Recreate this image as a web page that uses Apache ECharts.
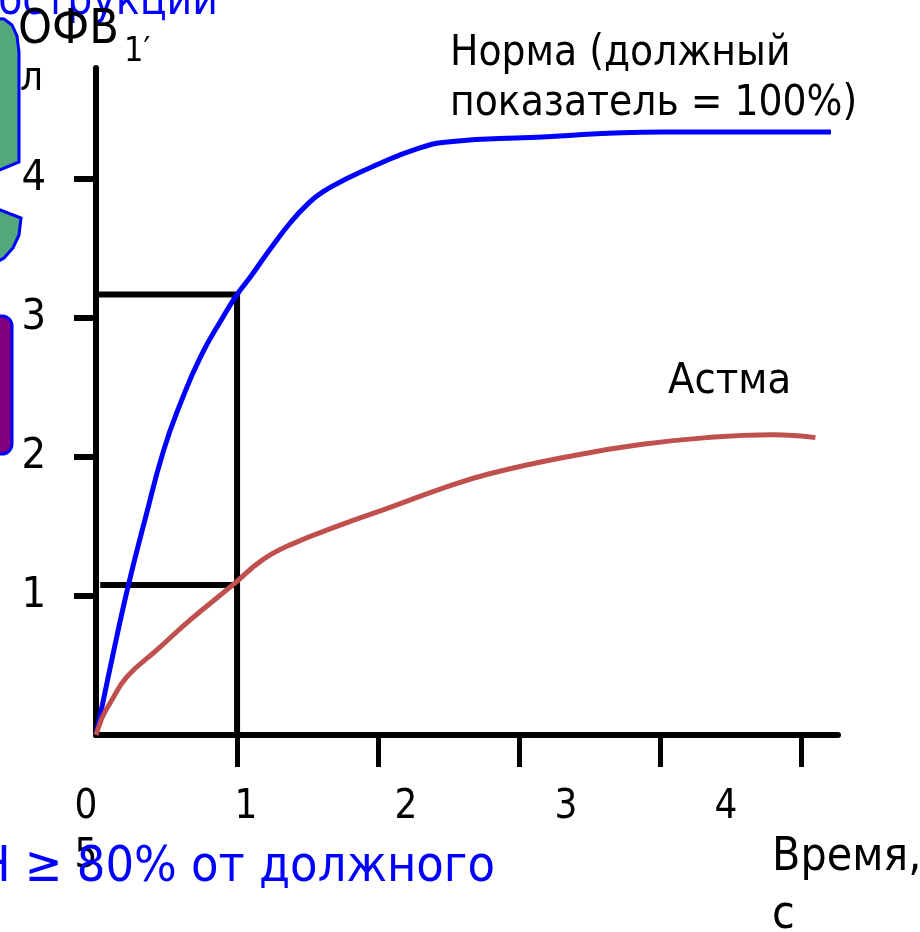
<!DOCTYPE html>
<html>
<head>
<meta charset="utf-8">
<script src="https://cdn.jsdelivr.net/npm/echarts@6/dist/echarts.min.js"></script>
<style>
  html, body { margin: 0; padding: 0; background: #fff; }
  #chart { width: 920px; height: 932px; }
</style>
</head>
<body>
<div id="chart"></div>
<script>
// ОФВ1: кривые форсированного выдоха — норма vs астма
const FONT = "'DejaVu Sans Condensed', 'DejaVu Sans', sans-serif";

// время, с  /  объём, л
const normT   = [0, 0.11, 0.23, 0.35, 0.48, 0.60, 0.74, 0.89, 1.00, 1.09, 1.23, 1.38, 1.50, 1.61, 1.79, 1.96, 2.28, 2.51, 3.08, 4.02, 5.21];
const normV   = [0, 0.53, 1.08, 1.56, 2.05, 2.39, 2.72, 2.99, 3.17, 3.29, 3.49, 3.69, 3.82, 3.91, 4.01, 4.09, 4.22, 4.27, 4.30, 4.34, 4.34];
const asthmaT = [0, 0.03, 0.05, 0.10, 0.22, 0.43, 0.67, 0.97, 1.18, 1.38, 1.73, 2.09, 2.44, 2.79, 3.38, 3.86, 4.33, 4.80, 5.10];
const asthmaV = [0, 0.09, 0.14, 0.23, 0.42, 0.61, 0.83, 1.08, 1.26, 1.37, 1.51, 1.64, 1.77, 1.88, 2.01, 2.09, 2.14, 2.16, 2.14];

// ОФВ1 на 1-й секунде
const fev1Time   = 1;
const normFev1   = 3.17;
const asthmaFev1 = 1.08;

const yTicks  = [1, 2, 3, 4];
const xTicks  = [1, 2, 3, 4, 5];
const xLabels = [0, 1, 2, 3, 4];

const zip = (a, b) => a.map((v, i) => [v, b[i]]);

const chart = echarts.init(document.getElementById("chart"), null, { renderer: "canvas" });

const txt = (text, x, y, size, color, align, z) => ({
  type: "text", z: z ?? 10,
  style: {
    text, x, y, fill: color || "#000",
    font: `${size}px ${FONT}`,
    textAlign: align || "left", textVerticalAlign: "middle",
  },
});

chart.setOption({
  backgroundColor: "#fff", animation: false,
  grid: [
    { left: 96, right: 82, top: 68, bottom: 197 },
    { left: 86, right: 34, top: 700, height: 82 },   // подписи оси времени
  ],
  xAxis: [
    {
      gridIndex: 0, type: "value", min: 0, max: 5.26,
      axisLine: { lineStyle: { color: "#000", width: 6 } },
      axisTick: { show: true, customValues: xTicks, length: 32, lineStyle: { color: "#000", width: 5 } },
      axisLabel: { show: false },
      splitLine: { show: false },
    },
    {
      gridIndex: 1, type: "value", min: 0, max: 5,
      axisLine: { show: false }, axisTick: { show: false }, splitLine: { show: false },
      axisLabel: {
        customValues: xLabels, margin: 6,
        color: "#000", fontSize: 40, fontFamily: FONT,
      },
    },
  ],
  yAxis: [
    {
      gridIndex: 0, type: "value", min: 0, max: 4.8,
      axisLine: { show: true, lineStyle: { color: "#000", width: 6 } },
      axisTick: { show: true, customValues: yTicks, length: 22, lineStyle: { color: "#000", width: 6 } },
      axisLabel: {
        customValues: yTicks, margin: 50,
        color: "#000", fontSize: 43, fontFamily: FONT,
      },
      splitLine: { show: false },
    },
    { gridIndex: 1, type: "value", show: false },
  ],
  series: [
    {
      type: "line", symbol: "none", z: 2,
      data: [[0, normFev1], [fev1Time, normFev1], [fev1Time, 0]],
      lineStyle: { color: "#000", width: 6 },
    },
    {
      type: "line", symbol: "none", z: 2,
      data: [[0.03, asthmaFev1], [fev1Time, asthmaFev1]],
      lineStyle: { color: "#000", width: 6 },
    },
    {
      name: "Норма", type: "line", symbol: "none", smooth: 0.5, z: 4,
      data: zip(normT, normV),
      lineStyle: { color: "#0000ff", width: 5 },
    },
    {
      name: "Астма", type: "line", symbol: "none", smooth: 0.45, z: 4,
      data: zip(asthmaT, asthmaV),
      lineStyle: { color: "#c0504d", width: 5 },
    },
  ],
  graphic: [
    // обрезанные фигуры слайда слева
    {
      type: "polygon", z: 5,
      shape: { points: [[-10, 18], [4, 19], [12, 25], [17, 36], [19, 52], [19, 162], [-10, 174]] },
      style: { fill: "#52a87a", stroke: "#0000ff", lineWidth: 3 },
    },
    {
      type: "polygon", z: 5,
      shape: { points: [[-10, 206], [21, 218], [19, 235], [13, 248], [4, 258], [-10, 266]] },
      style: { fill: "#52a87a", stroke: "#0000ff", lineWidth: 3 },
    },
    {
      type: "rect", z: 5,
      shape: { x: -20, y: 316, width: 32, height: 138, r: 10 },
      style: { fill: "#800080", stroke: "#0000ff", lineWidth: 3 },
    },
    txt("обструкции", 218, 3, 44, "#0000ff", "right"),
    txt("ОФВ", 18, 31, 48),
    txt("1′", 124, 52, 34),
    txt("л", 20, 80, 40),
    txt("Норма (должный", 450, 54, 42),
    txt("показатель = 100%)", 450, 104, 42),
    txt("Астма", 668, 382, 43),
    txt("Время,", 772, 858, 46),
    txt("с", 772, 916, 46),
    txt("5", 86, 857, 40, "#000", "center", 9),
    txt("Н ≥ 80% от должного", 495, 868, 50, "#0000ff", "right", 11),
  ],
});
</script>
</body>
</html>
